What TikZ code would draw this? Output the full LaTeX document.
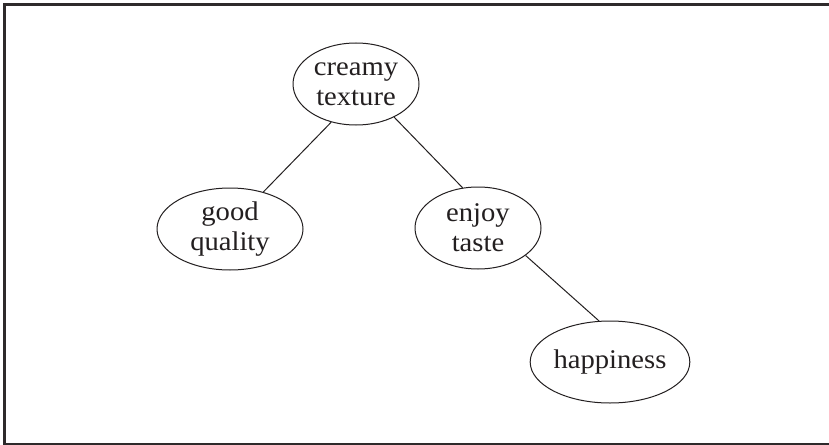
\documentclass[tikz,border=0pt]{standalone}
\usepackage{fontspec}
\setmainfont[FakeStretch=1.06]{Liberation Serif}
\usetikzlibrary{shapes.geometric}
\definecolor{ink}{HTML}{231F20}
\begin{document}
\begin{tikzpicture}[x=1pt,y=-1pt,
  bubble/.style={ellipse, draw=ink, line width=1pt, inner sep=0pt,
    minimum height=82pt, align=center, text=ink,
    font=\fontsize{27}{30}\selectfont},
  link/.style={draw=ink, line width=1pt}]
\clip (0,0) rectangle (829,444);
\fill[white] (0,0) rectangle (829,444);
\draw[draw=ink!95, line width=2.5pt] (900,4.5) -- (4.5,4.5) -- (4.5,444.5) -- (900,444.5);
\node[bubble, minimum width=126pt] (cream) at (356,84) {creamy\\texture};
\node[bubble, minimum width=146pt] (good) at (230,229) {good\\quality};
\node[bubble, minimum width=126pt] (enjoy) at (478,228) {enjoy\\taste};
\node[bubble, minimum width=146pt] (happy) at (610,362) {happiness};
\draw[link] (cream.-123) -- (good.48);
\draw[link] (cream.-41) -- (enjoy.111);
\draw[link] (enjoy.-30) -- (happy.105);
\end{tikzpicture}
\end{document}
